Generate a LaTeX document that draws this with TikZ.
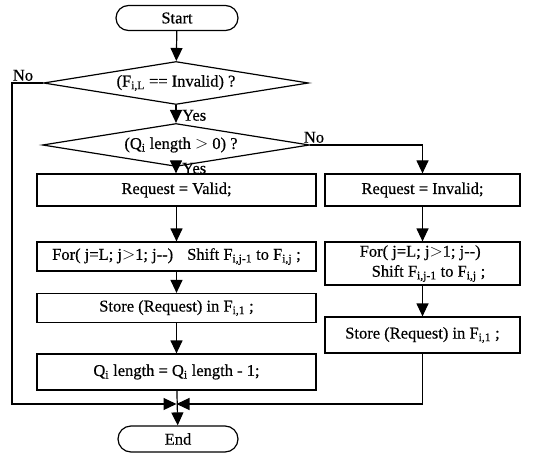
\documentclass[tikz,border=0pt]{standalone}
\usepackage{fontspec}
\setmainfont{Liberation Serif}[FakeBold=0.5]
\usetikzlibrary{shapes.geometric,shapes.misc,arrows.meta}
\begin{document}
\begin{tikzpicture}[x=1pt,y=-1pt,
  every node/.style={font=\fontsize{16.5}{20}\selectfont},
  term/.style={draw,rounded rectangle,line width=1.2pt,inner sep=0pt},
  dec/.style={draw,diamond,line width=1.2pt,inner sep=0pt,minimum width=265pt,minimum height=43pt,aspect=6},
  proc/.style={draw,rectangle,line width=1.2pt,inner sep=0pt},
  lbl/.style={inner sep=1pt},
  arr/.style={line width=1.2pt,-{Triangle[length=13pt,width=12pt]}}]
\useasboundingbox (0,0) rectangle (537,454);
\node[term,minimum width=122pt,minimum height=25pt] (start) at (177,18) {Start};
\node[dec] (d1) at (176,83) {(F\textsubscript{i,L} == Invalid) ?};
\node[dec,minimum width=267pt] (d2) at (176,145) {\hspace{10pt}(Q\textsubscript{i} length $>$ 0) ?};
\node[proc,minimum width=279pt,minimum height=32pt] (l1) at (176.5,190) {Request = Valid;};
\node[proc,minimum width=279pt,minimum height=29pt] (l2) at (176.5,256.5) {For( j=L; j$>$1; j-{}-)\hspace{14pt}Shift F\textsubscript{i,j-1} to F\textsubscript{i,j} ;};
\node[proc,minimum width=279pt,minimum height=29pt] (l3) at (176.5,308) {Store (Request) in F\textsubscript{i,1} ;};
\node[proc,minimum width=279pt,minimum height=36pt] (l4) at (176.5,372) {Q\textsubscript{i} length = Q\textsubscript{i} length - 1;};
\node[proc,minimum width=195pt,minimum height=32pt] (r1) at (422.5,190) {Request = Invalid;};
\node[proc,minimum width=195pt,minimum height=43pt,align=left] (r2) at (422.5,263.5) {For( j=L; j$>$1; j-{}-)\\\hspace{12pt}Shift F\textsubscript{i,j-1} to F\textsubscript{i,j} ;};
\node[proc,minimum width=195pt,minimum height=36pt] (r3) at (422.5,335) {Store (Request) in F\textsubscript{i,1} ;};
\node[term,minimum width=120pt,minimum height=26pt] (end) at (178,439) {End};
\coordinate (m) at (176.5,404);
\coordinate (cl) at (12,83);
\coordinate (cl2) at (12,404);
\coordinate (cr) at (422.5,145);
\coordinate (cr2) at (422.5,404);
\draw[arr] (start) -- (d1);
\draw[arr] (d1) -- (d2);
\draw[arr] (d2.south) -- (l1.north -| d2.south);
\draw[arr] (l1) -- (l2);
\draw[arr] (l2) -- (l3);
\draw[arr] (l3) -- (l4);
\draw[arr] (l4) -- (end);
\draw[arr] (r1) -- (r2);
\draw[arr] (r2) -- (r3);
\draw[arr] (d2.east) -- (cr) -- (r1.north);
\draw[arr] (d1.west) -- (cl) -- (cl2) -- (m);
\draw[arr] (r3.south) -- (cr2) -- (m);
\node[lbl,anchor=south] (no1) at (23,82) {No};
\node[lbl,anchor=south west] (yes1) at (181,122) {Yes};
\node[lbl,anchor=south] (no2) at (314,144) {No};
\node[lbl,anchor=south west] (yes2) at (181,175) {Yes};
\end{tikzpicture}
\end{document}
